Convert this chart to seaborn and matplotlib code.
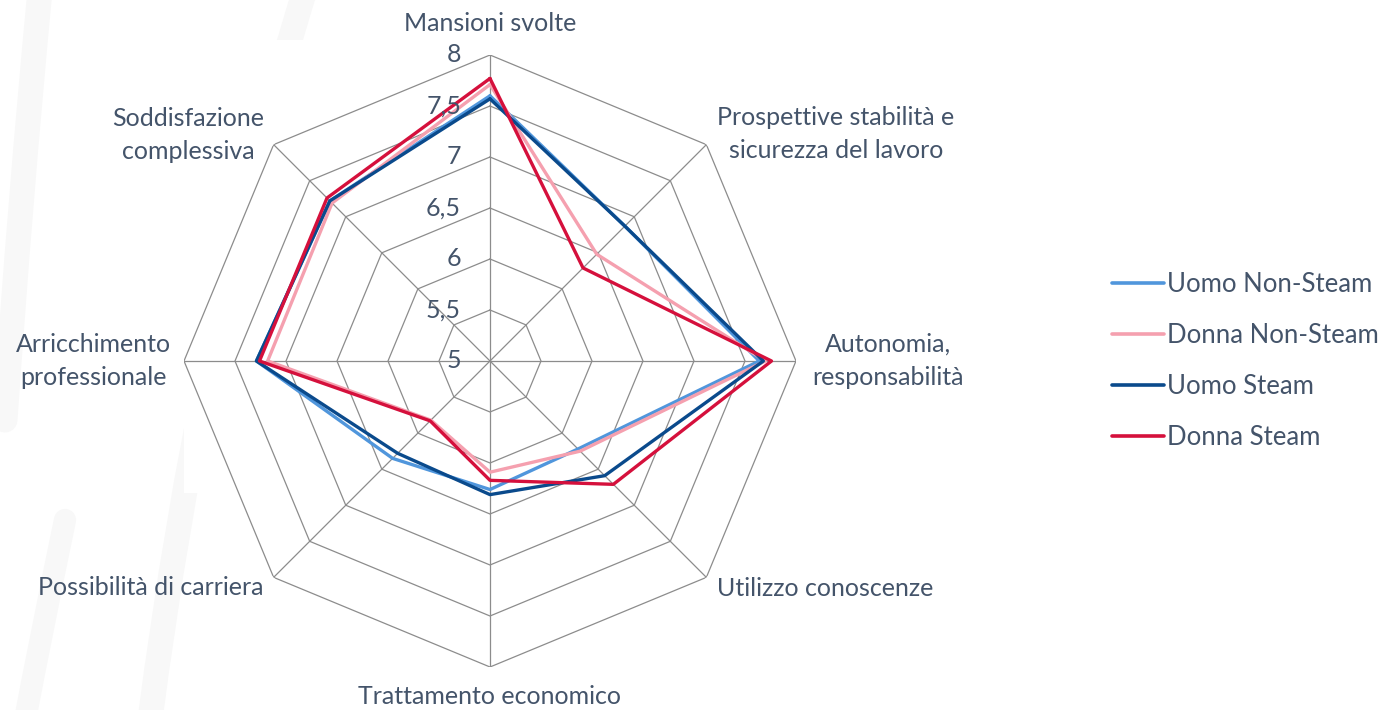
import numpy as np
import pandas as pd
import matplotlib
matplotlib.use("Agg")
import matplotlib.pyplot as plt
import matplotlib.transforms as mtransforms
from matplotlib.path import Path
from matplotlib.patches import PathPatch, Rectangle
from matplotlib.lines import Line2D
import seaborn as sns

# --- data ---
categories = [
    "Mansioni svolte",
    "Prospettive stabilità e\nsicurezza del lavoro",
    "Autonomia,\nresponsabilità",
    "Utilizzo conoscenze",
    "Trattamento economico",
    "Possibilità di carriera",
    "Arricchimento\nprofessionale",
    "Soddisfazione\ncomplessiva",
]
uomo_non_steam = [7.60, 6.87, 7.64, 6.22, 6.26, 6.35, 7.29, 7.22]
donna_non_steam = [7.71, 6.48, 7.70, 6.25, 6.09, 5.82, 7.18, 7.19]
uomo_steam = [7.57, 6.87, 7.68, 6.59, 6.31, 6.28, 7.29, 7.22]
donna_steam = [7.77, 6.29, 7.76, 6.71, 6.17, 5.83, 7.26, 7.26]

series_names = ["Uomo Non-Steam", "Donna Non-Steam", "Uomo Steam", "Donna Steam"]
ring_values = [5.5, 6, 6.5, 7, 7.5, 8]
tick_values = [5, 5.5, 6, 6.5, 7, 7.5, 8]
tick_labels = ["5", "5,5", "6", "6,5", "7", "7,5", "8"]

colors = ["#5096DC", "#F5A0AF", "#0A4A8C", "#D5103C"]
text_color = "#44546A"
grid_color = "#8C8C8C"

sns.set_theme(style="white")
plt.rcParams["font.family"] = ["Lato", "DejaVu Sans"]

W, H = 1393, 710
fig = plt.figure(figsize=(W / 100, H / 100), dpi=100)
fig.patch.set_facecolor("white")


def px(x, y):
    return x / W, 1 - y / H


# faint watermark strokes behind the chart
def stroke(points, width):
    verts = [px(*p) for p in points]
    codes = [Path.MOVETO] + [Path.CURVE3] * (len(verts) - 1)
    fig.add_artist(PathPatch(Path(verts, codes), transform=fig.transFigure,
                             fill=False, edgecolor="#F8F8F8", lw=width,
                             capstyle="round", zorder=-10))


stroke([(305, -10), (200, 330), (150, 720)], 18)
stroke([(40, -10), (20, 200), (5, 420)], 18)
stroke([(65, 520), (40, 640), (25, 720)], 16)
fig.add_artist(Rectangle(px(184, 493), (1010 - 184) / W, (493 - 40) / H,
                         transform=fig.transFigure, facecolor="white",
                         edgecolor="none", zorder=-5))

# polar axes: center (490, 361), radius 306 px
cx, cy, R = 490, 361, 306
ax = fig.add_axes([(cx - R) / W, (H - cy - R) / H, 2 * R / W, 2 * R / H],
                  projection="polar")
ax.set_theta_offset(np.pi / 2)
ax.set_theta_direction(-1)
ax.set_ylim(5, 8)
ax.patch.set_visible(False)
ax.spines["polar"].set_visible(False)
ax.grid(False)
ax.set_xticks([])
ax.set_yticks([])

n = len(categories)
angles = np.arange(n) * 2 * np.pi / n
closed = np.append(angles, angles[0])

# octagonal grid
for v in ring_values:
    ax.plot(closed, [v] * (n + 1), color=grid_color, lw=0.9, zorder=1)
for a in angles:
    ax.plot([a, a], [5, 8], color=grid_color, lw=0.9, zorder=1)

rows = []
for name, vals in zip(series_names, [uomo_non_steam, donna_non_steam, uomo_steam, donna_steam]):
    for i, (a, v) in enumerate(zip(list(angles) + [angles[0]], vals + [vals[0]])):
        rows.append({"serie": name, "order": i, "theta": a, "valore": v})
df = pd.DataFrame(rows)

for name, c in zip(series_names, colors):
    sub = df[df["serie"] == name]
    sns.lineplot(data=sub, x="theta", y="valore", sort=False, estimator=None,
                 color=c, lw=2.4, ax=ax, zorder=3)
ax.set_xlabel("")
ax.set_ylabel("")
ax.set_ylim(5, 8)

# radial tick labels to the left of the vertical spoke
off = mtransforms.offset_copy(ax.transData, fig=fig, x=-29, y=0, units="dots")
for v, lab in zip(tick_values, tick_labels):
    ax.text(0, v, lab, transform=off, ha="right", va="center",
            fontsize=18, color=text_color, zorder=4)

# category labels
label_pos = [
    (8.31, "center", "center"),
    (8.15, "left", "center"),
    (8.16, "left", "center"),
    (8.15, "left", "center"),
    (8.29, "center", "center"),
    (8.14, "right", "center"),
    (8.13, "right", "center"),
    (8.13, "right", "center"),
]
for a, lab, (r, ha, va) in zip(angles, categories, label_pos):
    ax.text(a, r, lab, ha=ha, va=va, multialignment="center",
            fontsize=18, color=text_color,
            linespacing=1.55, clip_on=False)

handles = [Line2D([0], [0], color=c, lw=2.6) for c in colors]
fig.legend(handles, series_names, loc="center left",
           bbox_to_anchor=(1089 / W, 1 - 361 / H), frameon=False,
           handlelength=2.0, handletextpad=0.15,
           labelspacing=1.0, labelcolor=text_color,
           prop={"size": 18.5})

fig.savefig("out.png", dpi=100)
